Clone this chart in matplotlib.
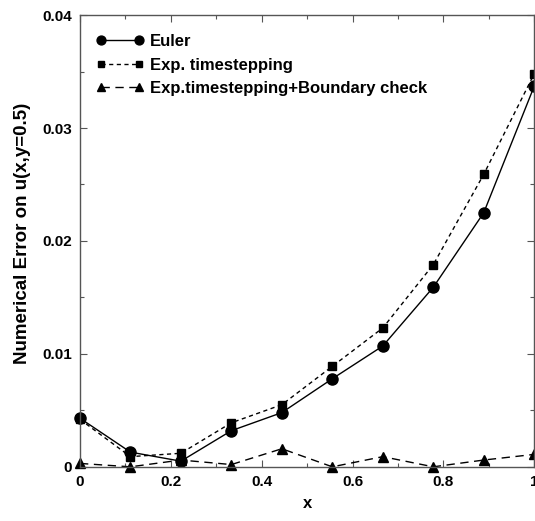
import matplotlib
matplotlib.use("Agg")
import matplotlib.pyplot as plt
from matplotlib.ticker import MultipleLocator, FixedLocator

plt.rcParams['font.family'] = ['Liberation Sans', 'DejaVu Sans']
plt.rcParams['font.weight'] = 'bold'

x = [0.0, 0.1111, 0.2222, 0.3333, 0.4444, 0.5556, 0.6667, 0.7778, 0.8889, 1.0]
euler = [0.0043, 0.0013, 0.0005, 0.0032, 0.0048, 0.0078, 0.0107, 0.0159, 0.0225, 0.0337]
exp_ts = [0.0042, 0.0009, 0.0012, 0.0039, 0.0055, 0.0089, 0.0123, 0.0179, 0.0259, 0.0348]
exp_bc = [0.0003, 0.0000, 0.0006, 0.0002, 0.0016, 0.0000, 0.0009, 0.0000, 0.0006, 0.0011]

xticks = [0, 0.2, 0.4, 0.6, 0.8, 1.0]
xticklabels = ['0', '0.2', '0.4', '0.6', '0.8', '1']
yticks = [0, 0.01, 0.02, 0.03, 0.04]
yticklabels = ['0', '0.01', '0.02', '0.03', '0.04']

fig = plt.figure(figsize=(5.35, 5.21), dpi=100)
ax = fig.add_axes([0.1495, 0.104, 0.849, 0.867])

ax.plot(x, euler, '-', color='black', lw=1.0, marker='o', ms=8, label='Euler', clip_on=False)
ax.plot(x, exp_ts, color='black', lw=1.0, ls=(0, (3, 2.5)), marker='s', ms=5.5, label='Exp. timestepping', clip_on=False)
ax.plot(x, exp_bc, color='black', lw=1.0, ls=(0, (6, 4)), marker='^', ms=7, label='Exp.timestepping+Boundary check', clip_on=False)

ax.set_xlim(0, 1)
ax.set_ylim(0, 0.04)
ax.xaxis.set_major_locator(FixedLocator(xticks))
ax.set_xticklabels(xticklabels)
ax.yaxis.set_major_locator(FixedLocator(yticks))
ax.set_yticklabels(yticklabels)
ax.xaxis.set_minor_locator(MultipleLocator(0.1))
ax.yaxis.set_minor_locator(MultipleLocator(0.005))
ax.tick_params(which='both', direction='in', top=True, right=True, labelsize=11, width=0.8, color='#555555')
ax.tick_params(which='major', length=5, pad=6)
ax.tick_params(which='minor', length=3)
for s in ax.spines.values():
    s.set_linewidth(1.0)
    s.set_color('#555555')

ax.set_xlabel('x', fontsize=12, fontweight='bold', labelpad=5)
ax.set_ylabel('Numerical Error on u(x,y=0.5)', fontsize=13.5, fontweight='bold', labelpad=8)
ax.yaxis.label.set_y(0.517)

leg = ax.legend(loc='upper left', bbox_to_anchor=(-0.008, 1.0), frameon=False, numpoints=2,
                handlelength=2.9, prop={'weight': 'bold', 'size': 12.0}, borderaxespad=0.75,
                labelspacing=0.5, handletextpad=0.35, markerscale=0.8)

fig.savefig('out.png', dpi=100)
